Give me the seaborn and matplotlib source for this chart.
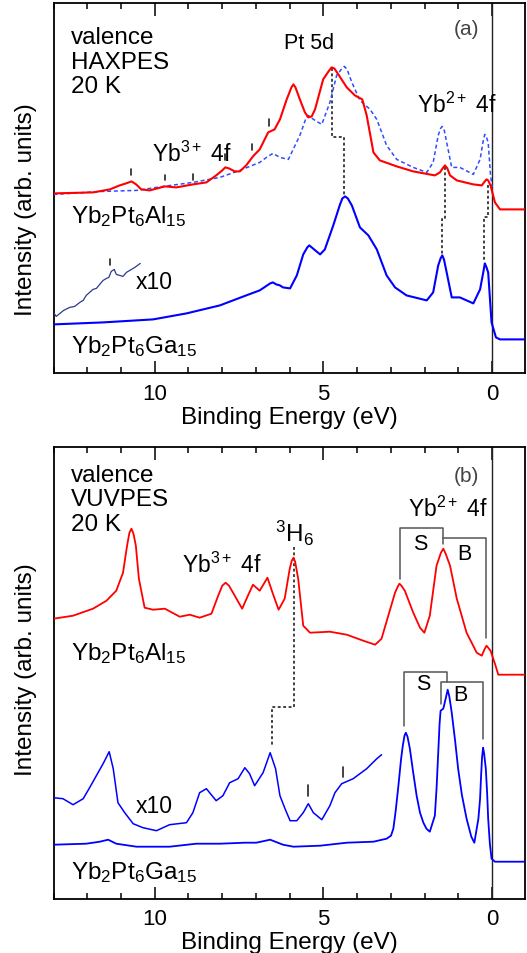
import numpy as np
import pandas as pd
import matplotlib
matplotlib.use('Agg')
import matplotlib.pyplot as plt
from matplotlib.ticker import MultipleLocator
import seaborn as sns

# ---------------- data (binding energy in eV, intensity in arb. units) ----------------
# Panel (a) HAXPES
a_al_E = [13.0, 11.83, 11.33, 11.04, 10.85, 10.69, 10.55, 10.40, 10.15, 9.70, 9.36, 8.87, 8.47, 8.18, 8.00,
          7.91, 7.80, 7.63, 7.48, 7.29, 7.09, 6.89, 6.64, 6.45, 6.29, 6.09, 5.95, 5.89, 5.83, 5.70, 5.55,
          5.45, 5.35, 5.25, 5.01, 4.85, 4.76, 4.68, 4.56, 4.31, 4.07, 3.85, 3.72, 3.52, 3.33, 2.83, 2.34,
          1.70, 1.55, 1.47, 1.40, 1.33, 1.25, 1.05, 0.56, 0.31, 0.22, 0.17, 0.12, 0.05, -0.08, -0.23, -1.0]
a_al_I = [180, 181, 184, 188, 190, 192, 189, 184, 183, 187, 186, 189, 191, 198, 203,
          206, 205, 202, 202, 208, 217, 224, 241, 244, 254, 274, 286, 289, 286, 274, 261,
          256, 257, 264, 294, 302, 306, 305, 299, 286, 278, 274, 258, 221, 213, 207, 202,
          198, 201, 205, 208, 205, 198, 193, 189, 188, 192, 194, 193, 188, 171, 164, 164]

a_gadash_E = [13.0, 11.53, 10.54, 9.75, 8.87, 8.07, 7.48, 6.89, 6.69, 6.50, 6.29, 6.04, 5.70, 5.52, 5.45,
              5.38, 5.25, 5.05, 4.81, 4.61, 4.45, 4.38, 4.30, 4.16, 3.92, 3.62, 3.42, 3.13, 2.83, 2.34,
              1.94, 1.75, 1.60, 1.53, 1.48, 1.42, 1.35, 1.20, 0.96, 0.56, 0.36, 0.26, 0.22, 0.18, 0.12,
              0.05, 0.0]
a_gadash_I = [179, 182, 183, 187, 191, 196, 203, 211, 216, 220, 216, 214, 238, 255, 258,
              256, 253, 249, 271, 298, 305, 307, 304, 291, 273, 264, 254, 228, 214, 206,
              201, 211, 238, 245, 247, 243, 231, 206, 206, 199, 214, 234, 239, 237, 231,
              198, 186]

a_ga_E = [13.0, 11.53, 10.05, 9.06, 8.07, 7.29, 6.89, 6.58, 6.50, 6.40, 6.29, 6.20, 5.99, 5.79, 5.60,
          5.48, 5.42, 5.35, 5.10, 4.96, 4.71, 4.51, 4.44, 4.36, 4.28, 4.16, 3.92, 3.67, 3.42, 3.13,
          2.88, 2.54, 1.94, 1.75, 1.60, 1.53, 1.48, 1.43, 1.35, 1.20, 0.96, 0.56, 0.36, 0.26, 0.22,
          0.18, 0.12, 0.02, -0.11, -0.23, -1.0]
a_ga_I = [49, 51, 54, 60, 68, 78, 83, 90, 91, 89, 88, 86, 85, 98, 119,
          126, 128, 126, 119, 124, 148, 169, 175, 177, 175, 168, 146, 138, 124, 98,
          86, 78, 73, 81, 108, 115, 118, 114, 101, 76, 76, 70, 84, 102, 110,
          107, 101, 51, 36, 34, 34]

a_x10_E = [13.0, 12.92, 12.81, 12.70, 12.52, 12.37, 12.22, 12.12, 12.03, 11.83, 11.73, 11.63, 11.53,
           11.43, 11.36, 11.29, 11.20, 11.14, 10.94, 10.84, 10.74, 10.59, 10.43]
a_x10_I = [61, 57, 60, 63, 66, 67, 71, 73, 78, 84, 85, 89, 93,
           95, 96, 102, 104, 99, 97, 101, 103, 106, 110]

a_tick_E = [10.69, 9.70, 8.87, 7.91, 7.11, 6.61, 11.32]
a_tick_lo = [198, 193, 193, 213, 223, 247, 108]
a_tick_hi = [204, 198, 199, 219, 229, 254, 114]

a_guide1_E = [4.76, 4.76, 4.38, 4.38]
a_guide1_I = [305, 236.7, 236.7, 177.7]
a_guide2_E = [1.40, 1.40, 1.48, 1.48]
a_guide2_I = [206, 154.4, 154.4, 117.7]
a_guide3_E = [0.13, 0.13, 0.23, 0.23]
a_guide3_I = [188, 156, 156, 112]

# Panel (b) VUVPES
b_al_E = [13.0, 12.42, 11.83, 11.43, 11.14, 10.94, 10.82, 10.75, 10.69, 10.63, 10.56, 10.47, 10.30, 10.05,
          9.70, 9.26, 8.96, 8.67, 8.32, 8.12, 8.00, 7.90, 7.80, 7.68, 7.41, 7.24, 7.09, 6.89, 6.66, 6.50,
          6.33, 6.15, 6.00, 5.94, 5.89, 5.84, 5.75, 5.60, 5.40, 4.81, 4.31, 3.82, 3.47, 3.28, 3.08, 2.88,
          2.80, 2.75, 2.69, 2.59, 2.34, 2.14, 2.01, 1.85, 1.65, 1.52, 1.45, 1.38, 1.25, 1.05, 0.76, 0.46,
          0.31, 0.22, 0.17, 0.12, 0.05, -0.08, -0.18, -1.0]
b_al_I = [280, 283, 290, 298, 308, 326, 353, 366, 370, 365, 353, 320, 291, 289,
          290, 282, 284, 281, 285, 303, 313, 316, 313, 306, 290, 303, 314, 308, 321, 305,
          289, 300, 330, 338, 341, 337, 320, 273, 266, 267, 264, 258, 254, 260, 283, 306,
          312, 315, 313, 308, 286, 271, 266, 283, 333, 346, 350, 345, 333, 300, 266, 246,
          243, 250, 253, 251, 248, 235, 224, 224]

b_ga_E = [13.0, 12.03, 11.63, 11.38, 11.14, 10.54, 9.56, 8.77, 8.07, 7.33, 6.99, 6.58, 6.20, 5.89, 5.10,
          4.31, 3.52, 3.13, 3.00, 2.93, 2.86, 2.78, 2.70, 2.65, 2.60, 2.56, 2.51, 2.44, 2.35, 2.24,
          2.14, 2.04, 1.95, 1.85, 1.70, 1.65, 1.60, 1.56, 1.53, 1.45, 1.38, 1.32, 1.27, 1.20, 1.10,
          1.01, 0.90, 0.76, 0.62, 0.53, 0.41, 0.36, 0.33, 0.30, 0.27, 0.24, 0.19, 0.15, 0.12, 0.07,
          0.02, -0.08, -1.0]
b_ga_I = [54, 55, 57, 59, 55, 52, 52, 55, 55, 56, 56, 59, 54, 52, 53,
          56, 57, 60, 63, 70, 88, 113, 140, 153, 163, 166, 162, 150, 128, 103,
          86, 76, 70, 67, 83, 110, 146, 175, 188, 190, 200, 209, 202, 186, 158,
          130, 104, 80, 62, 56, 80, 100, 123, 142, 151, 145, 130, 105, 80, 55,
          40, 37, 37]

b_x10_E = [13.0, 12.72, 12.42, 12.12, 11.93, 11.73, 11.53, 11.35, 11.23, 11.09, 10.89, 10.64, 10.35,
           9.95, 9.56, 9.06, 8.87, 8.67, 8.47, 8.18, 7.98, 7.78, 7.53, 7.33, 7.19, 7.04, 6.79, 6.58,
           6.42, 6.29, 6.14, 5.99, 5.79, 5.60, 5.45, 5.30, 5.05, 4.81, 4.66, 4.46, 4.12, 3.72, 3.42, 3.28]
b_x10_I = [101, 100, 94, 100, 111, 123, 135, 147, 130, 96, 86, 75, 71,
           68, 74, 76, 86, 106, 110, 98, 103, 116, 120, 131, 125, 113, 126, 146,
           130, 103, 90, 78, 78, 86, 95, 86, 79, 93, 106, 115, 120, 130, 140, 144]

b_tick_E = [5.47, 4.43]
b_tick_lo = [103, 121.4]
b_tick_hi = [113.7, 131.4]

b_guide_E = [5.87, 5.87, 6.54, 6.54]
b_guide_I = [351.7, 191.7, 191.7, 153.8]

b_al_S_E = [2.73, 2.73, 1.47, 1.47]
b_al_S_I = [319.7, 370.4, 370.4, 354.7]
b_al_B_E = [1.45, 0.17, 0.17]
b_al_B_I = [360.4, 360.4, 260.4]
b_ga_S_E = [2.61, 2.61, 1.33, 1.33]
b_ga_S_I = [172.4, 227, 227, 216.4]
b_ga_B_E = [1.52, 1.52, 0.27, 0.27]
b_ga_B_I = [194.7, 216.4, 216.4, 159.7]

# ---------------- style ----------------
sns.set_theme(style='ticks')
plt.rcParams['font.family'] = ['Liberation Sans', 'DejaVu Sans']
plt.rcParams['mathtext.fontset'] = 'custom'
plt.rcParams['mathtext.rm'] = 'Liberation Sans'
plt.rcParams['mathtext.it'] = 'Liberation Sans:italic'
plt.rcParams['mathtext.bf'] = 'Liberation Sans:bold'
plt.rcParams['mathtext.default'] = 'regular'
plt.rcParams['lines.solid_joinstyle'] = 'round'

W, H = 527, 954
fig = plt.figure(figsize=(W / 100, H / 100), dpi=100)


def axes_px(l, t, r, b):
    return fig.add_axes([l / W, 1 - b / H, (r - l) / W, (b - t) / H])


ax_a = axes_px(53.5, 4.4, 525.3, 374.4)
ax_b = axes_px(53.5, 448, 525.3, 899.7)


def curve(ax, E, I, color, lw, dashes=None):
    df = pd.DataFrame({'E': E, 'I': I})
    sns.lineplot(data=df, x='E', y='I', ax=ax, color=color, lw=lw,
                 estimator=None, sort=False, zorder=3)
    line = ax.get_lines()[-1]
    if dashes is not None:
        line.set_dashes(dashes)
    return line


def guide(ax, E, I):
    ax.plot(E, I, color='#333333', lw=1.3, dashes=(1.6, 1.4), zorder=2)


def bracket(ax, E, I):
    ax.plot(E, I, color='#555555', lw=1.1, zorder=2)


def ticks(ax, E, lo, hi):
    for e, l, h in zip(E, lo, hi):
        ax.plot([e, e], [l, h], color='#222222', lw=1.2, zorder=2)


RED = '#ff0000'
BLUE = '#0000ff'

# panel (a)
curve(ax_a, a_gadash_E, a_gadash_I, '#2f4dff', 1.1, dashes=(2.6, 1.8))
curve(ax_a, a_al_E, a_al_I, RED, 1.5)
curve(ax_a, a_ga_E, a_ga_I, BLUE, 1.5)
curve(ax_a, a_x10_E, a_x10_I, '#2b3a8c', 0.9)
ticks(ax_a, a_tick_E, a_tick_lo, a_tick_hi)
guide(ax_a, a_guide1_E, a_guide1_I)
guide(ax_a, a_guide2_E, a_guide2_I)
guide(ax_a, a_guide3_E, a_guide3_I)

# panel (b)
curve(ax_b, b_al_E, b_al_I, RED, 1.3)
curve(ax_b, b_ga_E, b_ga_I, BLUE, 1.3)
curve(ax_b, b_x10_E, b_x10_I, BLUE, 1.1)
ticks(ax_b, b_tick_E, b_tick_lo, b_tick_hi)
guide(ax_b, b_guide_E, b_guide_I)
bracket(ax_b, b_al_S_E, b_al_S_I)
bracket(ax_b, b_al_B_E, b_al_B_I)
bracket(ax_b, b_ga_S_E, b_ga_S_I)
bracket(ax_b, b_ga_B_E, b_ga_B_I)

ax_a.set_ylim(0, 370)
ax_b.set_ylim(0, 451.7)

for ax in (ax_a, ax_b):
    ax.set_xlim(13, -0.98)
    ax.xaxis.set_major_locator(MultipleLocator(5))
    ax.xaxis.set_minor_locator(MultipleLocator(1))
    ax.tick_params(axis='x', which='both', direction='in', top=True, bottom=True,
                   labelsize=16, pad=7, colors='black')
    ax.tick_params(axis='x', which='major', length=9, width=1.1)
    ax.tick_params(axis='x', which='minor', length=4.5, width=1.1)
    ax.set_yticks([])
    ax.tick_params(axis='y', left=False, right=False)
    for s in ax.spines.values():
        s.set_visible(True)
        s.set_linewidth(1.3)
        s.set_color('black')
    ax.axvline(0, color='#222222', lw=1.0, zorder=1)
    ax.set_xlabel('Binding Energy (eV)', fontsize=17.5, labelpad=1, color='black')
    ax.set_ylabel('Intensity (arb. units)', fontsize=17.5, color='black')

ax_a.yaxis.set_label_coords(-0.035, 0.444)
ax_b.yaxis.set_label_coords(-0.035, 0.5085)

TXT = dict(color='black', ha='left', va='baseline')
# panel (a) text
ax_a.text(12.49, 330.6, 'valence', fontsize=17.5, **TXT)
ax_a.text(12.49, 305.1, 'HAXPES', fontsize=17.5, **TXT)
ax_a.text(12.49, 281.1, '20 K', fontsize=17.5, **TXT)
ax_a.text(0.75, 344.4, '(a)', fontsize=15, color='#444444', ha='center', va='center')
ax_a.text(6.16, 325.6, 'Pt 5d', fontsize=15.5, **TXT)
ax_a.text(2.22, 261.6, 'Yb$^{2+}$ 4f', fontsize=16.5, **TXT)
ax_a.text(10.07, 212.7, 'Yb$^{3+}$ 4f', fontsize=16.5, **TXT)
ax_a.text(12.48, 151.1, 'Yb$_2$Pt$_6$Al$_{15}$', fontsize=17.5, **TXT)
ax_a.text(10.56, 85.4, 'x10', fontsize=16.5, **TXT)
ax_a.text(12.49, 21.2, 'Yb$_2$Pt$_6$Ga$_{15}$', fontsize=17.5, **TXT)

# panel (b) text
ax_b.text(12.49, 417.4, 'valence', fontsize=17.5, **TXT)
ax_b.text(12.49, 393.8, 'VUVPES', fontsize=17.5, **TXT)
ax_b.text(12.49, 368.6, '20 K', fontsize=17.5, **TXT)
ax_b.text(0.75, 423, '(b)', fontsize=15, color='#444444', ha='center', va='center')
ax_b.text(2.50, 383.1, 'Yb$^{2+}$ 4f', fontsize=16.5, **TXT)
ax_b.text(6.45, 357.8, '$^{3}$H$_{6}$', fontsize=17.5, **TXT)
ax_b.text(9.20, 326.5, 'Yb$^{3+}$ 4f', fontsize=16.5, **TXT)
ax_b.text(12.48, 240.0, 'Yb$_2$Pt$_6$Al$_{15}$', fontsize=17.5, **TXT)
ax_b.text(10.56, 86.4, 'x10', fontsize=16.5, **TXT)
ax_b.text(12.49, 20.8, 'Yb$_2$Pt$_6$Ga$_{15}$', fontsize=17.5, **TXT)
ax_b.text(2.12, 355.7, 'S', fontsize=15.5, color='black', ha='center', va='center')
ax_b.text(0.84, 345.7, 'B', fontsize=15.5, color='black', ha='center', va='center')
ax_b.text(2.03, 215.0, 'S', fontsize=15.5, color='black', ha='center', va='center')
ax_b.text(0.94, 204.0, 'B', fontsize=15.5, color='black', ha='center', va='center')

fig.savefig('out.png', dpi=100)
